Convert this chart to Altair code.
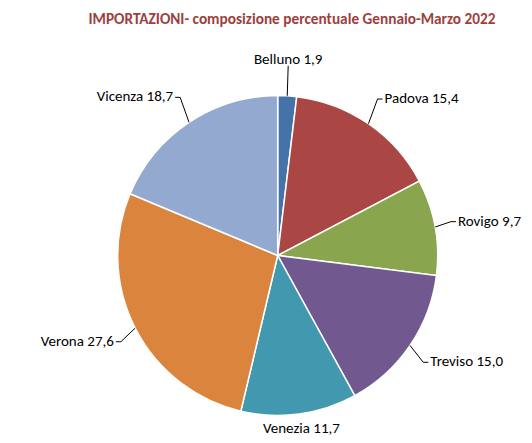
import altair as alt
import pandas as pd

regions = ["Belluno", "Padova", "Rovigo", "Treviso", "Venezia", "Verona", "Vicenza"]
shares = [1.9, 15.4, 9.7, 15.0, 11.7, 27.6, 18.7]
colors = ["#4572A7", "#AA4643", "#89A54E", "#71588F", "#4198AF", "#DB843D", "#93A9CF"]
title_text = "IMPORTAZIONI- composizione percentuale Gennaio-Marzo 2022"

labels = [f"{r} {format(v, '.1f').replace('.', ',')}" for r, v in zip(regions, shares)]
df = pd.DataFrame({"region": regions, "share": shares, "label": labels,
                   "order": list(range(len(regions)))})

W, H = 516, 398
CX, CY, R = 269.7, 220.5, 160
RX, RY = 176, 190      # elbow of the leader lines (ellipse radii)
ELBOW = 5              # horizontal leg of the leader lines
FONT = "Carlito, Lato, sans-serif"

base = alt.Chart(df).transform_window(
    cum="sum(share)", sort=[alt.SortField("order")]
).transform_calculate(
    start="datum.cum - datum.share",
    ang="2*PI*(datum.cum - datum.share/2)/100",
).transform_calculate(
    sx="sin(datum.ang)", sy="-cos(datum.ang)"
).transform_calculate(
    side="datum.sx > 0.3 ? 1 : (datum.sx < -0.3 ? -1 : 0)",
    ex=f"{CX} + {R}*datum.sx", ey=f"{CY} + {R}*datum.sy",
    lx=f"{CX} + {RX}*datum.sx", ly=f"{CY} + {RY}*datum.sy",
).transform_calculate(
    hx=f"datum.lx + {ELBOW}*datum.side",
)

arcs = base.mark_arc(outerRadius=R, stroke="white", strokeWidth=1.5).encode(
    theta=alt.Theta("start:Q", scale=alt.Scale(domain=[0, 100])),
    theta2="cum:Q",
    color=alt.Color("region:N", scale=alt.Scale(domain=regions, range=colors), legend=None),
    x=alt.value(CX), y=alt.value(CY),
)

leader = base.transform_filter("datum.sy < 0.95")
lines = leader.mark_rule(color="black", strokeWidth=1).encode(
    x=alt.X("ex:Q", scale=None), y=alt.Y("ey:Q", scale=None),
    x2="lx:Q", y2="ly:Q",
)
legs = leader.transform_filter("datum.side != 0").mark_rule(color="black", strokeWidth=1).encode(
    x=alt.X("lx:Q", scale=None), y=alt.Y("ly:Q", scale=None),
    x2="hx:Q", y2="ly:Q",
)

def text_layer(cond, align, baseline, dx=0, dy=0):
    return base.transform_filter(cond).mark_text(
        align=align, baseline=baseline, dx=dx, dy=dy, font=FONT, fontSize=15, color="black"
    ).encode(x=alt.X("hx:Q", scale=None), y=alt.Y("ly:Q", scale=None), text="label:N")

right = text_layer("datum.side == 1", "left", "middle", dx=2, dy=-1)
left = text_layer("datum.side == -1", "right", "middle", dx=-2, dy=-1)
top = text_layer("datum.side == 0 && datum.sy < 0", "center", "bottom", dy=1)
bottom = text_layer("datum.side == 0 && datum.sy > 0", "center", "bottom", dy=-8)

chart = alt.layer(arcs, lines, legs, right, left, top, bottom).properties(
    width=W, height=H,
    padding={"top": 3, "left": 0, "right": 0, "bottom": 0},
    title=alt.TitleParams(title_text, font=FONT, fontSize=15.3, fontWeight="bold",
                          color="#9E3F3D", anchor="middle", dx=26, offset=8),
).configure_view(stroke=None)

chart.save("out.html", embed_options={"renderer": "svg", "actions": False})
